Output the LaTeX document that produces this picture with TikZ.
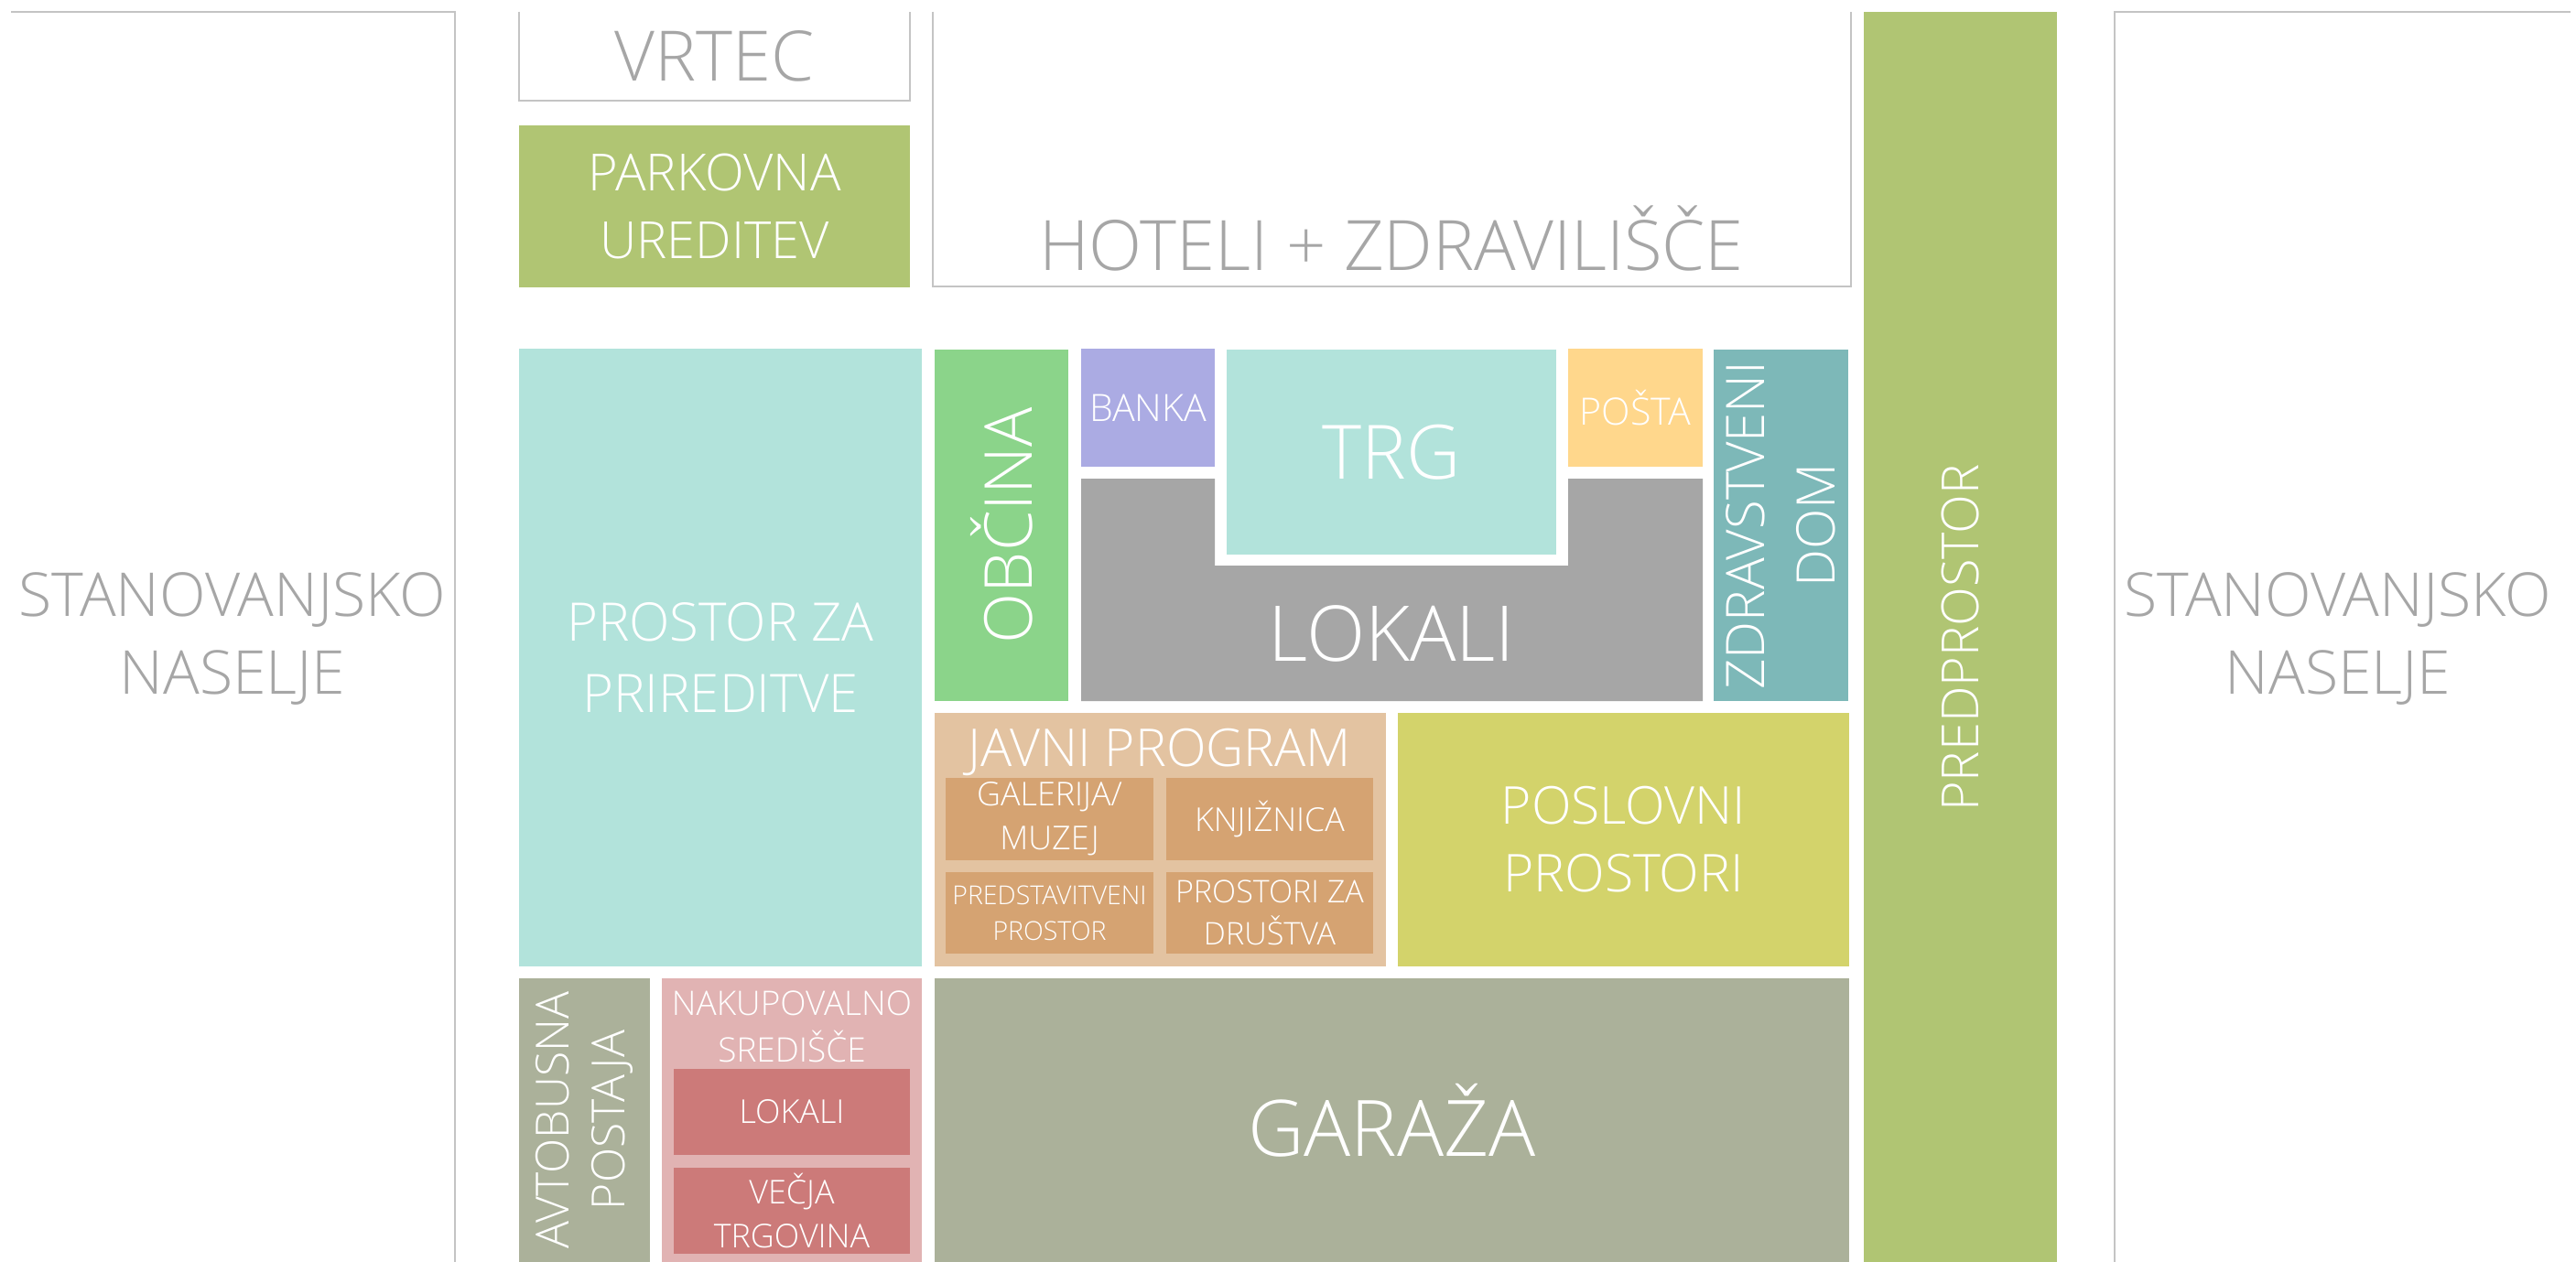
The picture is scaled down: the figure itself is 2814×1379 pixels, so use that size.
\documentclass[tikz,border=0pt]{standalone}
\usepackage{fontspec}
\IfFontExistsTF{Open Sans Light}{\setmainfont{Open Sans Light}}{\setmainfont{Open Sans}}
\usetikzlibrary{positioning}

\definecolor{parkgreen}{HTML}{B0C573}
\definecolor{mint}{HTML}{B2E3DB}
\definecolor{townhall}{HTML}{8BD48A}
\definecolor{bank}{HTML}{ABABE3}
\definecolor{post}{HTML}{FFD78C}
\definecolor{shops}{HTML}{A6A6A6}
\definecolor{health}{HTML}{7DB8B8}
\definecolor{public}{HTML}{E3C3A1}
\definecolor{publicsub}{HTML}{D5A372}
\definecolor{office}{HTML}{D3D36B}
\definecolor{garage}{HTML}{ABB19A}
\definecolor{mall}{HTML}{E1B3B3}
\definecolor{mallsub}{HTML}{CC7A79}
\definecolor{outline}{HTML}{C4C4C4}
\definecolor{labelgray}{HTML}{A6A6A6}

\newcommand{\pxfont}[2]{\fontsize{#1}{#2}\selectfont}

\begin{document}
\begin{tikzpicture}[x=0.01cm, y=-0.01cm,
    zone label/.style={inner sep=0pt, align=center, text=white},
    plan label/.style={inner sep=0pt, align=center, text=labelgray},
    outline/.style={draw=outline, line width=0.6pt}]
    \fill[white] (0,0) rectangle (2814,1379);
    \useasboundingbox (0,0) rectangle (2814,1379);

    % surroundings
    \coordinate (W1) at (12,13);
    \coordinate (W2) at (497,13);
    \coordinate (W3) at (497,1379);
    \draw[outline] (W1) -- (W2) -- (W3);
    \node[plan label, font=\pxfont{18.8pt}{24.2pt}] (homesW) at (254,698) {STANOVANJSKO\\NASELJE};
    \coordinate (E1) at (2808,13);
    \coordinate (E2) at (2310,13);
    \coordinate (E3) at (2310,1379);
    \draw[outline] (E1) -- (E2) -- (E3);
    \node[plan label, font=\pxfont{18.8pt}{24.2pt}] (homesE) at (2554,698) {STANOVANJSKO\\NASELJE};

    % top row
    \coordinate (V1) at (567,13);
    \coordinate (V2) at (567,110);
    \coordinate (V3) at (994,110);
    \coordinate (V4) at (994,13);
    \draw[outline] (V1) -- (V2) -- (V3) -- (V4);
    \node[plan label, font=\pxfont{21.6pt}{26pt}] (kindergarten) at (barycentric cs:V1=1,V3=1) {VRTEC};
    \coordinate (H1) at (1019,13);
    \coordinate (H2) at (1019,313);
    \coordinate (H3) at (2022,313);
    \coordinate (H4) at (2022,13);
    \draw[outline] (H1) -- (H2) -- (H3) -- (H4);
    \node[plan label, font=\pxfont{21.6pt}{26pt}, anchor=base] (hotels) at (1520,295) {HOTELI + ZDRAVILIŠČE};
    \coordinate (P1) at (567,137);
    \coordinate (P2) at (994,314);
    \fill[parkgreen] (P1) rectangle (P2);
    \node[zone label, font=\pxfont{15.9pt}{21.1pt}] (park) at (barycentric cs:P1=1,P2=1) {PARKOVNA\\UREDITEV};
    \coordinate (F1) at (2036,13);
    \coordinate (F2) at (2247,1379);
    \fill[parkgreen] (F1) rectangle (F2);
    \node[zone label, font=\pxfont{15.9pt}{20pt}, rotate=90] (forecourt) at (2141,697) {PREDPROSTOR};

    % middle block
    \coordinate (A1) at (567,381);
    \coordinate (A2) at (1007,1056);
    \fill[mint] (A1) rectangle (A2);
    \node[zone label, font=\pxfont{16.5pt}{22.2pt}] (events) at (barycentric cs:A1=1,A2=1) {PROSTOR ZA\\PRIREDITVE};
    \coordinate (O1) at (1021,382);
    \coordinate (O2) at (1167,766);
    \fill[townhall] (O1) rectangle (O2);
    \node[zone label, font=\pxfont{20.5pt}{24pt}, rotate=90] (townhall) at (barycentric cs:O1=1,O2=1) {OBČINA};
    \coordinate (B1) at (1181,381);
    \coordinate (B2) at (1327,510);
    \fill[bank] (B1) rectangle (B2);
    \node[zone label, font=\pxfont{11.7pt}{14pt}] (bank) at (barycentric cs:B1=1,B2=1) {BANKA};
    \coordinate (T1) at (1340,382);
    \coordinate (T2) at (1700,606);
    \fill[mint] (T1) rectangle (T2);
    \node[zone label, font=\pxfont{23.3pt}{28pt}] (square) at (barycentric cs:T1=1,T2=1) {TRG};
    \coordinate (S1) at (1713,381);
    \coordinate (S2) at (1860,510);
    \fill[post] (S1) rectangle (S2);
    \node[zone label, font=\pxfont{11.7pt}{14pt}] (post) at (barycentric cs:S1=1,S2=1) {POŠTA};
    \coordinate (L1) at (1181,523);
    \coordinate (L2) at (1327,618);
    \coordinate (L3) at (1713,618);
    \coordinate (L4) at (1860,766);
    \coordinate (L0) at (L1 |- L2);
    \fill[shops] (L1) -- (L1 -| L2) -- (L2) -- (L3) -- (L3 |- L1) -- (L1 -| L4) -- (L4) -- (L4 -| L1) -- cycle;
    \node[zone label, font=\pxfont{23.9pt}{28pt}] (shops) at (barycentric cs:L0=1,L4=1) {LOKALI};
    \coordinate (Z1) at (1872,382);
    \coordinate (Z2) at (2019,766);
    \fill[health] (Z1) rectangle (Z2);
    \node[zone label, font=\pxfont{16.5pt}{21.9pt}, rotate=90] (health) at (barycentric cs:Z1=1,Z2=1) {ZDRAVSTVENI\\DOM};

    % public programme
    \coordinate (J1) at (1021,779);
    \coordinate (J2) at (1514,1056);
    \fill[public] (J1) rectangle (J2);
    \node[zone label, font=\pxfont{16.2pt}{20pt}, anchor=north] (public) at (1267,795) {JAVNI PROGRAM};
    \coordinate (G1) at (1033,850);
    \coordinate (G2) at (1260,940);
    \fill[publicsub] (G1) rectangle (G2);
    \node[zone label, font=\pxfont{10.2pt}{13.7pt}] (gallery) at (barycentric cs:G1=1,G2=1) {GALERIJA/\\MUZEJ};
    \coordinate (K1) at (1274,850);
    \coordinate (K2) at (1500,940);
    \fill[publicsub] (K1) rectangle (K2);
    \node[zone label, font=\pxfont{10.2pt}{13.7pt}] (library) at (barycentric cs:K1=1,K2=1) {KNJIŽNICA};
    \coordinate (R1) at (1033,953);
    \coordinate (R2) at (1260,1042);
    \fill[publicsub] (R1) rectangle (R2);
    \node[zone label, font=\pxfont{8.1pt}{11.1pt}] (showroom) at (barycentric cs:R1=1,R2=1) {PREDSTAVITVENI\\PROSTOR};
    \coordinate (D1) at (1274,953);
    \coordinate (D2) at (1500,1042);
    \fill[publicsub] (D1) rectangle (D2);
    \node[zone label, font=\pxfont{9.7pt}{13.1pt}] (societies) at (barycentric cs:D1=1,D2=1) {PROSTORI ZA\\DRUŠTVA};
    \coordinate (C1) at (1527,779);
    \coordinate (C2) at (2020,1056);
    \fill[office] (C1) rectangle (C2);
    \node[zone label, font=\pxfont{16.2pt}{21.1pt}] (offices) at (barycentric cs:C1=1,C2=1) {POSLOVNI\\PROSTORI};

    % bottom row
    \coordinate (Y1) at (567,1069);
    \coordinate (Y2) at (710,1379);
    \fill[garage] (Y1) rectangle (Y2);
    \node[zone label, font=\pxfont{14.2pt}{17.4pt}, rotate=90] (bus) at (barycentric cs:Y1=1,Y2=1) {AVTOBUSNA\\POSTAJA};
    \coordinate (N1) at (723,1069);
    \coordinate (N2) at (1007,1379);
    \fill[mall] (N1) rectangle (N2);
    \node[zone label, font=\pxfont{10.5pt}{14.5pt}, anchor=north] (mall) at (865,1082) {NAKUPOVALNO\\SREDIŠČE};
    \coordinate (M1) at (736,1168);
    \coordinate (M2) at (994,1262);
    \fill[mallsub] (M1) rectangle (M2);
    \node[zone label, font=\pxfont{10.2pt}{13.9pt}] (mallshops) at (barycentric cs:M1=1,M2=1) {LOKALI};
    \coordinate (X1) at (736,1276);
    \coordinate (X2) at (994,1370);
    \fill[mallsub] (X1) rectangle (X2);
    \node[zone label, font=\pxfont{10.2pt}{13.9pt}] (store) at (barycentric cs:X1=1,X2=1) {VEČJA\\TRGOVINA};
    \coordinate (Q1) at (1021,1069);
    \coordinate (Q2) at (2020,1379);
    \fill[garage] (Q1) rectangle (Q2);
    \node[zone label, font=\pxfont{24.2pt}{28pt}] (garage) at (barycentric cs:Q1=1,Q2=1) {GARAŽA};
\end{tikzpicture}
\end{document}
